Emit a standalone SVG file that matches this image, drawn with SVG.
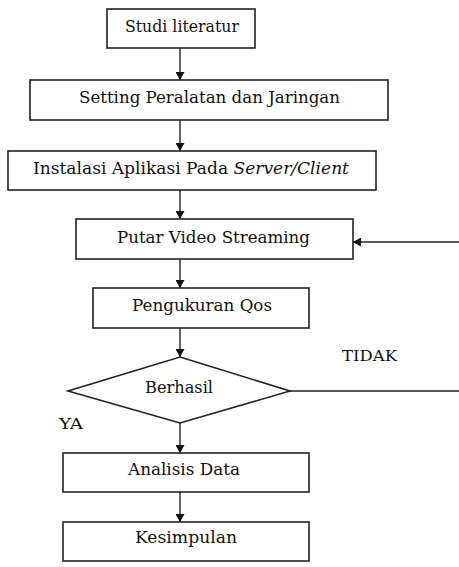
<svg xmlns="http://www.w3.org/2000/svg" width="459" height="567" viewBox="0 0 459 567">
<style>
.box{fill:#fff;stroke:#222;stroke-width:1.6}
.t{font-family:'DejaVu Serif','Liberation Serif',serif;font-size:16px;fill:#111;text-anchor:middle}
.l{font-family:'DejaVu Serif','Liberation Serif',serif;font-size:15px;fill:#111}
.c{fill:none;stroke:#222;stroke-width:1.4}
</style>
<defs>
<marker id="ah" markerWidth="8" markerHeight="9" refX="8" refY="4.5" orient="auto" markerUnits="userSpaceOnUse">
<path d="M0,0 L8,4.5 L0,9 z" fill="#111"/>
</marker>
</defs>
<rect width="459" height="567" fill="#fff"/>
<g id="connectors">
<line class="c" x1="180" y1="48" x2="180" y2="80" marker-end="url(#ah)"/>
<line class="c" x1="180" y1="120" x2="180" y2="151" marker-end="url(#ah)"/>
<line class="c" x1="180" y1="190" x2="180" y2="219" marker-end="url(#ah)"/>
<line class="c" x1="180" y1="259" x2="180" y2="288" marker-end="url(#ah)"/>
<line class="c" x1="180" y1="328" x2="180" y2="357" marker-end="url(#ah)"/>
<line class="c" x1="180" y1="423" x2="180" y2="453" marker-end="url(#ah)"/>
<line class="c" x1="180" y1="492" x2="180" y2="522" marker-end="url(#ah)"/>
<line class="c" x1="290" y1="391" x2="459" y2="391"/>
<line class="c" x1="459" y1="242" x2="353" y2="242" marker-end="url(#ah)"/>
<text class="l" x="342" y="361" textLength="55" lengthAdjust="spacingAndGlyphs">TIDAK</text>
<text class="l" x="59" y="429" textLength="24" lengthAdjust="spacingAndGlyphs">YA</text>
</g>
<g id="n1"><rect class="box" x="107" y="9" width="148" height="39"/><text class="t" x="182" y="32" textLength="114" lengthAdjust="spacingAndGlyphs">Studi literatur</text></g>
<g id="n2"><rect class="box" x="30" y="80" width="358" height="40"/><text class="t" x="209.5" y="103" textLength="261" lengthAdjust="spacingAndGlyphs">Setting Peralatan dan Jaringan</text></g>
<g id="n3"><rect class="box" x="8" y="151" width="368" height="39"/><text class="t" x="191" y="174" textLength="316" lengthAdjust="spacingAndGlyphs">Instalasi Aplikasi Pada <tspan font-style="italic">Server/Client</tspan></text></g>
<g id="n4"><rect class="box" x="76" y="219" width="277" height="40"/><text class="t" x="213.5" y="243" textLength="193" lengthAdjust="spacingAndGlyphs">Putar Video Streaming</text></g>
<g id="n5"><rect class="box" x="93" y="288" width="216" height="40"/><text class="t" x="202" y="311" textLength="140" lengthAdjust="spacingAndGlyphs">Pengukuran Qos</text></g>
<g id="n6"><path class="box" d="M180,357 L290,391 L180,423 L68,391 Z"/><text class="t" x="179" y="393" textLength="68" lengthAdjust="spacingAndGlyphs">Berhasil</text></g>
<g id="n7"><rect class="box" x="63" y="453" width="246" height="39"/><text class="t" x="184" y="475" textLength="112" lengthAdjust="spacingAndGlyphs">Analisis Data</text></g>
<g id="n8"><rect class="box" x="63" y="522" width="246" height="39"/><text class="t" x="186" y="543" textLength="102" lengthAdjust="spacingAndGlyphs">Kesimpulan</text></g>
</svg>
